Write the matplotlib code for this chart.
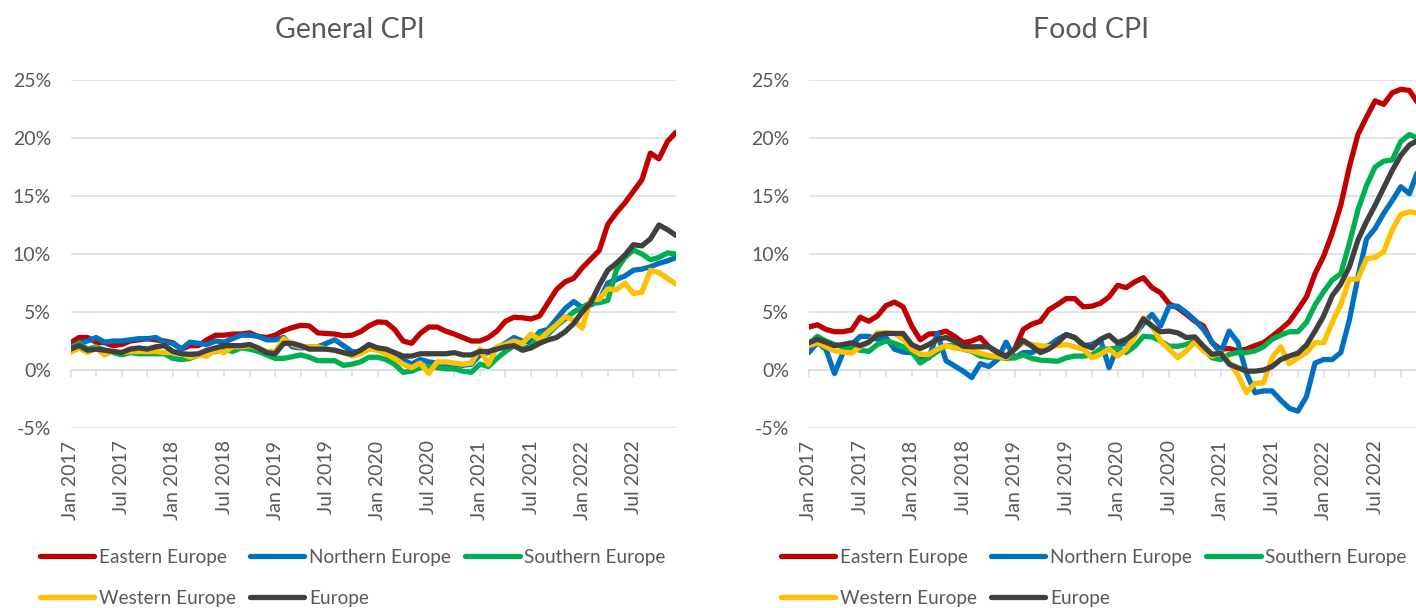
import matplotlib
matplotlib.use('Agg')
import matplotlib.pyplot as plt
import numpy as np
import pandas as pd

plt.rcParams['font.family'] = ['Lato', 'DejaVu Sans']

# monthly, Jan 2017 - Dec 2022, year-on-year change in %
months = pd.date_range('2017-01-01', periods=72, freq='MS')
names = ['Eastern Europe', 'Northern Europe', 'Southern Europe', 'Western Europe', 'Europe']
colors = ['#C00000', '#0070C0', '#00B050', '#FFC000', '#404040']

gen_eastern = [2.35, 2.8, 2.8, 2.4, 2.35, 2.1, 2.2, 2.5, 2.6, 2.7, 2.6, 2.5,
               2.35, 1.8, 2.1, 2.1, 2.6, 3.0, 3.0, 3.1, 3.1, 3.2, 2.9, 2.8,
               3.0, 3.4, 3.65, 3.85, 3.8, 3.2, 3.15, 3.1, 2.95, 3.0, 3.3, 3.8,
               4.15, 4.1, 3.5, 2.5, 2.3, 3.15, 3.7, 3.7, 3.35, 3.1, 2.8, 2.5,
               2.5, 2.8, 3.35, 4.2, 4.55, 4.5, 4.4, 4.65, 5.8, 6.95, 7.6, 7.9,
               8.8, 9.55, 10.3, 12.55, 13.55, 14.4, 15.4, 16.4, 18.7, 18.2, 19.7, 20.5]
gen_northern = [2.0, 2.3, 2.5, 2.8, 2.4, 2.5, 2.5, 2.6, 2.7, 2.7, 2.8, 2.4,
                2.3, 1.8, 2.4, 2.3, 2.2, 2.5, 2.4, 2.7, 3.0, 3.0, 2.9, 2.6,
                2.6, 2.8, 2.0, 1.9, 2.0, 2.0, 2.3, 2.6, 2.1, 1.6, 1.5, 1.8,
                1.9, 1.7, 1.4, 0.9, 0.5, 0.9, 0.7, 0.6, 0.5, 0.5, 0.4, 0.5,
                1.3, 1.5, 1.9, 2.3, 2.8, 2.5, 2.4, 3.3, 3.5, 4.4, 5.3, 5.9,
                5.4, 5.6, 6.0, 7.5, 7.8, 8.1, 8.6, 8.7, 8.9, 9.2, 9.4, 9.7]
gen_southern = [1.9, 2.3, 1.8, 2.0, 1.7, 1.5, 1.3, 1.5, 1.4, 1.4, 1.4, 1.4,
                1.0, 0.9, 1.0, 1.3, 1.5, 1.6, 1.8, 1.6, 1.9, 1.8, 1.6, 1.3,
                1.0, 1.0, 1.15, 1.3, 1.1, 0.8, 0.8, 0.8, 0.4, 0.5, 0.7, 1.1,
                1.1, 0.9, 0.5, -0.2, -0.1, 0.2, 0.3, 0.2, 0.1, 0.1, -0.1, -0.2,
                0.5, 0.3, 1.0, 1.6, 2.1, 1.8, 2.1, 3.0, 3.1, 3.8, 4.4, 5.0,
                5.4, 5.8, 5.8, 6.0, 8.6, 9.7, 10.35, 10.0, 9.5, 9.7, 10.1, 10.0]
gen_western = [1.5, 1.9, 1.5, 1.9, 1.3, 1.6, 1.5, 1.6, 1.6, 1.6, 1.6, 1.5,
               1.5, 1.4, 1.1, 1.3, 1.2, 1.7, 1.5, 2.0, 2.0, 2.1, 1.9, 1.6,
               1.6, 2.7, 2.2, 2.0, 2.0, 2.0, 1.8, 1.7, 1.5, 1.2, 1.4, 1.8,
               1.7, 1.4, 1.0, 0.5, 0.2, 0.6, -0.3, 0.7, 0.7, 0.6, 0.5, 0.6,
               1.8, 0.5, 2.0, 2.2, 2.5, 2.3, 3.1, 2.6, 3.3, 3.9, 4.6, 4.3,
               3.6, 6.1, 6.1, 7.0, 6.9, 7.5, 6.6, 6.7, 8.6, 8.4, 7.9, 7.4]
gen_europe = [1.8, 2.1, 1.7, 1.8, 1.7, 1.6, 1.5, 1.8, 1.9, 1.8, 2.0, 2.1,
              1.6, 1.4, 1.35, 1.4, 1.7, 1.9, 2.1, 2.1, 2.1, 2.2, 1.9, 1.5,
              1.4, 2.3, 2.3, 2.1, 1.8, 1.8, 1.8, 1.7, 1.5, 1.35, 1.7, 2.2,
              1.9, 1.8, 1.5, 1.2, 1.2, 1.4, 1.4, 1.4, 1.4, 1.5, 1.3, 1.3,
              1.6, 1.6, 1.8, 2.0, 2.1, 1.7, 1.9, 2.3, 2.6, 2.8, 3.3, 4.0,
              5.0, 5.8, 7.3, 8.6, 9.2, 9.9, 10.8, 10.7, 11.3, 12.5, 12.1, 11.6]

food_eastern = [3.7, 3.9, 3.5, 3.3, 3.3, 3.45, 4.55, 4.2, 4.65, 5.55, 5.85, 5.45,
                3.8, 2.6, 3.1, 3.15, 3.35, 2.9, 2.35, 2.5, 2.8, 2.0, 1.55, 1.2,
                1.8, 3.5, 3.95, 4.2, 5.2, 5.65, 6.15, 6.15, 5.45, 5.5, 5.75, 6.3,
                7.3, 7.1, 7.6, 7.95, 7.1, 6.65, 5.7, 5.35, 4.8, 4.2, 3.8, 2.35,
                1.8, 1.85, 1.65, 1.8, 2.1, 2.35, 2.9, 3.5, 4.15, 5.2, 6.3, 8.3,
                9.8, 11.8, 14.2, 17.5, 20.3, 21.8, 23.2, 22.9, 23.9, 24.2, 24.1, 23.0]
food_northern = [1.5, 2.35, 1.8, -0.3, 1.5, 2.2, 2.9, 2.9, 2.65, 2.8, 1.8, 1.55,
                 1.5, 0.9, 1.05, 3.15, 0.8, 0.35, -0.1, -0.65, 0.55, 0.3, 0.9, 2.4,
                 1.05, 1.5, 1.5, 1.9, 2.1, 2.65, 3.05, 2.8, 2.1, 2.2, 2.6, 0.2,
                 2.05, 2.35, 3.05, 4.0, 4.8, 3.8, 5.5, 5.5, 4.95, 4.3, 3.5, 2.4,
                 1.5, 3.35, 2.4, -0.25, -1.95, -1.8, -1.8, -2.6, -3.3, -3.55, -2.3, 0.6,
                 0.9, 0.9, 1.5, 4.3, 8.0, 11.3, 12.2, 13.5, 14.6, 15.8, 15.2, 17.2]
food_southern = [2.2, 2.9, 2.5, 2.2, 2.0, 1.9, 1.7, 1.6, 2.2, 2.5, 2.3, 2.0,
                 1.6, 0.6, 1.1, 1.6, 2.1, 2.1, 1.8, 1.6, 1.2, 1.1, 1.1, 1.0,
                 1.05, 1.3, 1.0, 0.85, 0.8, 0.75, 1.05, 1.2, 1.2, 1.3, 1.8, 1.8,
                 1.9, 1.5, 2.05, 2.9, 2.85, 2.5, 2.05, 2.05, 2.2, 2.5, 1.8, 1.05,
                 0.9, 1.35, 1.5, 1.5, 1.65, 2.0, 2.65, 3.0, 3.3, 3.3, 4.1, 5.6,
                 6.75, 7.75, 8.3, 10.9, 13.8, 15.9, 17.5, 18.0, 18.1, 19.7, 20.3, 20.0]
food_western = [2.1, 2.35, 2.0, 1.65, 1.55, 1.45, 2.0, 2.4, 3.2, 3.2, 3.15, 2.65,
                1.8, 1.35, 1.35, 1.8, 2.1, 1.9, 1.8, 1.65, 1.45, 1.25, 1.15, 1.05,
                1.8, 2.35, 2.2, 2.1, 2.0, 2.1, 2.2, 2.0, 1.8, 1.05, 1.35, 1.8,
                1.2, 1.8, 2.9, 4.5, 3.8, 2.5, 1.8, 1.05, 1.65, 2.4, 1.65, 1.2,
                1.5, 0.65, -0.4, -1.95, -1.15, -1.1, 1.05, 2.0, 0.55, 1.05, 1.5, 2.35,
                2.35, 4.1, 5.65, 7.8, 7.85, 9.6, 9.7, 10.2, 12.1, 13.4, 13.65, 13.5]
food_europe = [2.35, 2.65, 2.4, 2.1, 2.2, 2.35, 2.1, 2.4, 3.05, 3.15, 3.15, 3.15,
               2.2, 1.85, 2.2, 2.65, 2.8, 2.5, 2.05, 2.0, 2.0, 2.0, 1.5, 1.15,
               1.8, 2.55, 2.05, 1.5, 1.8, 2.35, 3.05, 2.8, 2.2, 1.9, 2.65, 3.0,
               2.35, 2.65, 3.2, 4.4, 3.8, 3.3, 3.35, 3.2, 2.8, 2.85, 2.05, 1.35,
               1.45, 0.5, 0.2, -0.1, -0.1, 0.0, 0.3, 0.9, 1.2, 1.45, 2.15, 3.35,
               4.65, 6.4, 7.4, 8.9, 11.2, 12.8, 14.2, 15.7, 17.2, 18.5, 19.4, 19.8]

general = [gen_eastern, gen_northern, gen_southern, gen_western, gen_europe]
food = [food_eastern, food_northern, food_southern, food_western, food_europe]

text_col = '#595959'
grid_col = '#D9DCE3'
W, H = 1416, 608

fig = plt.figure(figsize=(W / 100, H / 100), dpi=100)


def draw_panel(rect, series, title, title_x, leg_x):
    ax = fig.add_axes(rect)
    x = np.arange(len(months))
    lines = []
    for name, vals, col in zip(names, series, colors):
        ln, = ax.plot(x, vals, color=col, lw=3.8, label=name,
                      solid_joinstyle='round', solid_capstyle='round')
        lines.append(ln)
    ax.set_xlim(0, len(months) - 1)
    ax.set_ylim(-5, 25)
    ax.set_yticks(range(-5, 30, 5))
    ax.yaxis.set_major_formatter(lambda v, p: f'{v:.0f}%')
    ax.grid(axis='y', color=grid_col, lw=1.1)
    ax.set_axisbelow(True)
    for s in ['top', 'right', 'left']:
        ax.spines[s].set_visible(False)
    # horizontal axis crosses at 0
    ax.spines['bottom'].set_position(('data', 0))
    ax.spines['bottom'].set_color(grid_col)
    ax.spines['bottom'].set_linewidth(1.1)
    ax.spines['bottom'].set_zorder(1)
    ax.set_xticks(x[::3])
    ax.tick_params(axis='x', length=5, width=1.1, color=grid_col, labelbottom=False)
    ax.tick_params(axis='y', length=0, pad=14, labelsize=14, labelcolor=text_col)

    # date labels sit under the plot area
    sec = ax.secondary_xaxis('bottom')
    sec.set_xticks(x[::6], months[::6].strftime('%b %Y'))
    sec.tick_params(length=0, pad=9, labelsize=14, labelcolor=text_col, labelrotation=90)
    sec.spines['bottom'].set_visible(False)

    fig.text(title_x / W, 1 - 30 / H, title, ha='center', va='center',
             fontsize=20.5, color=text_col)

    order = [0, 3, 1, 4, 2]
    ax.legend([lines[i] for i in order], [names[i] for i in order], ncol=3,
              loc='upper left', bbox_to_anchor=(leg_x / W, 1 - 549 / H),
              bbox_transform=fig.transFigure, frameon=False, fontsize=13.7,
              labelcolor=text_col, handlelength=2.85, handletextpad=0.25,
              columnspacing=0.75, labelspacing=1.25, borderpad=0, borderaxespad=0)
    return ax


bottom = 1 - 428 / H
height = (428 - 80) / H
draw_panel([70.5 / W, bottom, (676 - 70.5) / W, height], general, 'General CPI', 350, 40)
draw_panel([808.7 / W, bottom, (1418 - 808.7) / W, height], food, 'Food CPI', 1091, 781)

fig.savefig('out.png', dpi=100)
